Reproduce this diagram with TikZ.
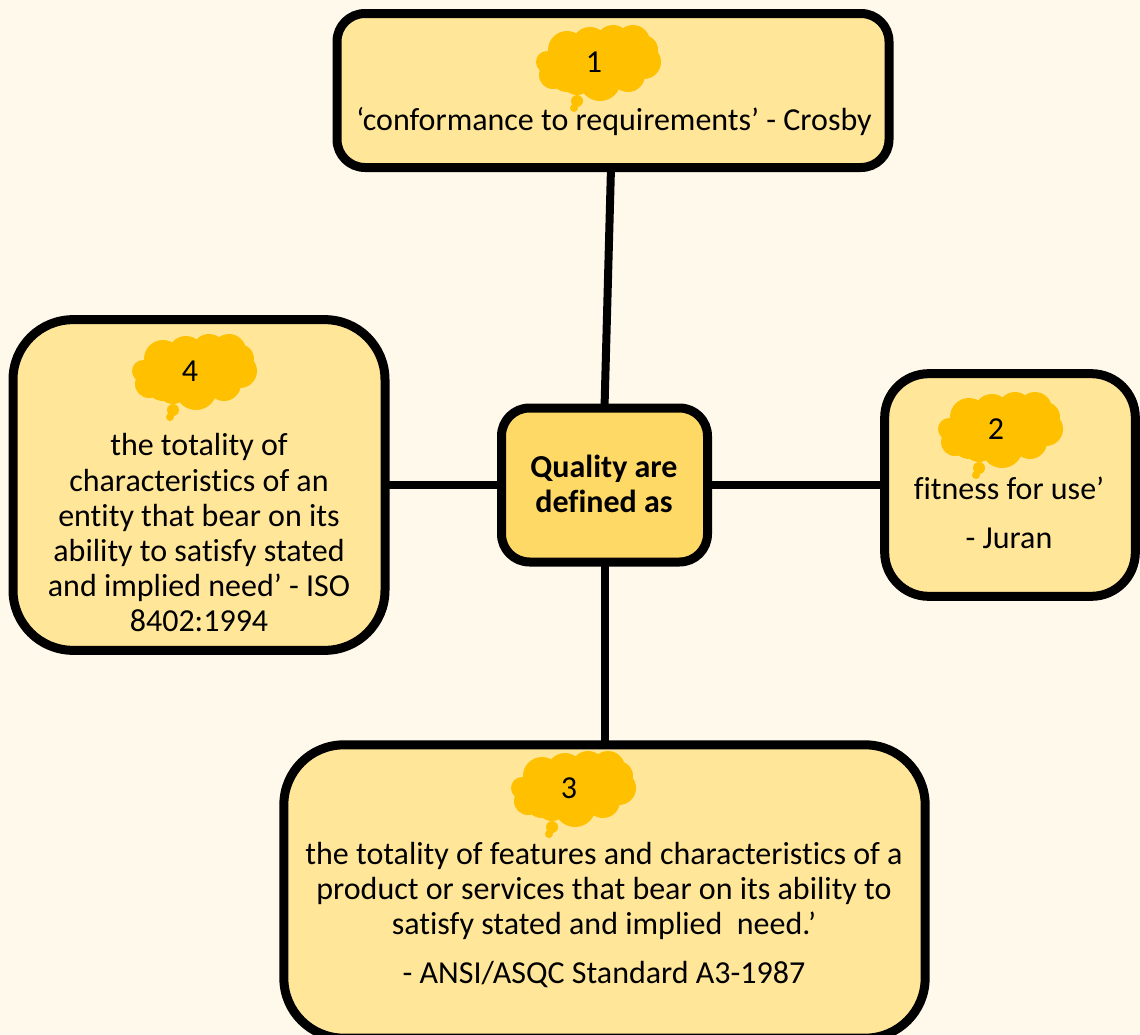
\documentclass[tikz,border=0pt]{standalone}
\usepackage{fontspec}
\setmainfont[Ligatures={NoCommon}]{Carlito}
\definecolor{pagebg}{HTML}{FFF9EB}
\definecolor{boxfill}{HTML}{FFE699}
\definecolor{hubfill}{HTML}{FFD966}
\definecolor{cloudfill}{HTML}{FFC000}
\tikzset{
  card/.style={draw=black,line width=6.75pt,fill=boxfill,inner sep=0pt,outer sep=0pt},
  cardtext/.style={align=center,inner sep=0pt,font=\fontsize{24}{26.4}\selectfont},
  cloudnum/.style={inner sep=0pt,font=\fontsize{24}{26.4}\selectfont},
  link/.style={draw=black,line width=6pt},
  pics/thought/.style={code={
    \fill[cloudfill] (-27,-12) circle (19) (-4,-17) circle (18) (19,-20) circle (17)
      (39,-20) circle (17) (49,-12) circle (15) (50,0) circle (17) (34,13) circle (17)
      (6,18) circle (21) (-17,18) circle (15) (-27,13) circle (17) (-41,13) circle (14) (-47,0) circle (11)
      (3,0) circle (30) (-20,0) circle (22) (25,0) circle (22);
    \fill[cloudfill] (-17,39) circle (6) (-20,46) circle (4);
  }}
}
\begin{document}
\begin{tikzpicture}[x=0.75pt,y=-0.75pt]
\useasboundingbox (0,0) rectangle (1140,1035);
\fill[pagebg] (0,0) rectangle (1140,1035);
\node (hub) at (604.5,485) [card,fill=hubfill,rounded corners=21pt,minimum width=154.5pt,minimum height=115.5pt] {};
\node (top) at (613,90.5) [card,rounded corners=21pt,minimum width=414pt,minimum height=115.5pt] {};
\node (right) at (1010,485) [card,rounded corners=33pt,minimum width=188pt,minimum height=167pt] {};
\node (bottom) at (604.5,891.5) [card,rounded corners=45pt,minimum width=481pt,minimum height=220pt] {};
\node (left) at (199,485) [card,rounded corners=45pt,minimum width=279pt,minimum height=248pt] {};
\coordinate (topfoot) at ([xshift=-1.5pt]top.south);
\draw [link] (hub.north) -- (topfoot);
\draw [link] (hub.east) -- (right.west);
\draw [link] (hub.south) -- (bottom.north);
\draw [link] (hub.west) -- (left.east);
\pic at (594,62) {thought};
\pic at (996,429) {thought};
\pic at (569,788) {thought};
\pic at (190,371) {thought};
\node (num1) at (594,62) [cloudnum] {1};
\node (num2) at (996,429) [cloudnum] {2};
\node (num3) at (569,788) [cloudnum] {3};
\node (num4) at (190,371) [cloudnum] {4};
\node (hubtext) at (604,484) [cardtext] {\textbf{Quality are}\\\textbf{defined as}};
\node (toptext) at (614,122) [cardtext] {‘conformance to requirements’ - Crosby};
\node (righttext) at (1009,513) [cardtext] {fitness for use’\\[10.5pt]- Juran};
\node (bottomtext) at (604,915) [cardtext] {the totality of features and characteristics of a\\product or services that bear on its ability to\\satisfy stated and implied~ need.’\\[10.5pt]- ANSI/ASQC Standard A3-1987};
\node (lefttext) at (199,533) [cardtext] {the totality of\\characteristics of an\\entity that bear on its\\ability to satisfy stated\\and implied need’ - ISO\\8402:1994};
\end{tikzpicture}
\end{document}
